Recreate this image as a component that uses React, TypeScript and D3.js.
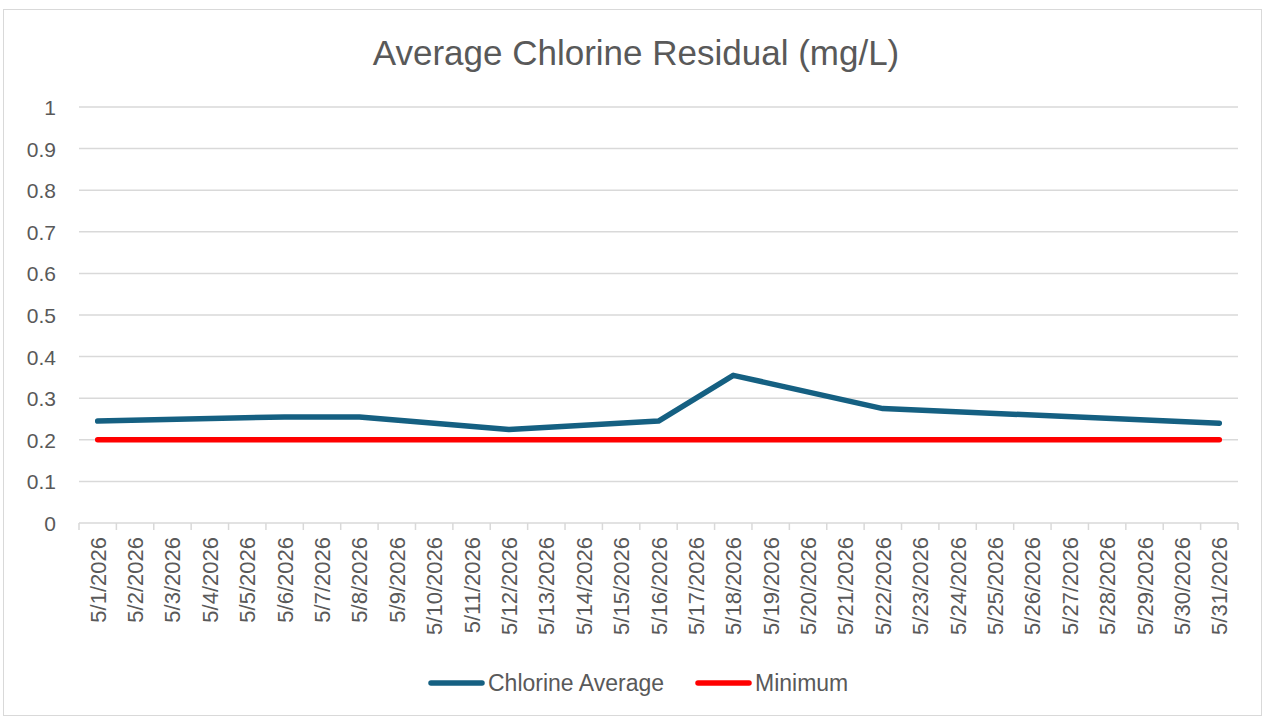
import React from "react";
import * as d3 from "d3";

const days: string[] = Array.from({ length: 31 }, (_, i) => `5/${i + 1}/2026`);
// measured values (null = no reading that day; line connects readings)
const chlorineAverage: (number | null)[] = [
  0.245, null, null, null, null, 0.255, null, 0.255, null, null,
  null, 0.225, null, null, null, 0.245, null, 0.355, null, null,
  null, 0.275, null, null, null, null, null, null, null, null, 0.24,
];
const minimum: number[] = days.map(() => 0.2);
const yTicks: number[] = [0, 0.1, 0.2, 0.3, 0.4, 0.5, 0.6, 0.7, 0.8, 0.9, 1];

const W = 1266, H = 719;
const left = 79, right = 1238, top = 107, bottom = 523;
const FONT = "'Liberation Sans', Arial, sans-serif";
const GRAY = "#595959";

export default function App() {
  const x = d3.scaleBand<string>().domain(days).range([left, right]).padding(0);
  const y = d3.scaleLinear().domain([0, 1]).range([bottom, top]);
  const cx = (d: string) => (x(d) ?? 0) + x.bandwidth() / 2;

  const avgPts = days
    .map((d, i) => [d, chlorineAverage[i]] as [string, number | null])
    .filter((p) => p[1] !== null) as [string, number][];
  const line = d3.line<[string, number]>().x((p) => cx(p[0])).y((p) => y(p[1]));
  const minPts = days.map((d, i) => [d, minimum[i]] as [string, number]);

  return (
    <svg width={W} height={H} style={{ position: "absolute", left: 0, top: 0 }}>
      <rect x={0} y={0} width={W} height={H} fill="#fff" />
      <rect x={3.5} y={9.5} width={1258} height={706} fill="#fff" stroke="#d9d9d9" strokeWidth={1} />
      <text x={636} y={65} textAnchor="middle" fontFamily={FONT} fontSize={35} fill={GRAY}>
        Average Chlorine Residual (mg/L)
      </text>
      {yTicks.map((t) => (
        <g key={t}>
          <line x1={left} x2={right} y1={y(t)} y2={y(t)} stroke="#d9d9d9" strokeWidth={1.5} />
          <text x={56} y={y(t) + 8} textAnchor="end" fontFamily={FONT} fontSize={21} fill={GRAY}>
            {String(t)}
          </text>
        </g>
      ))}
      {days.map((d, i) => (
        <line key={"t" + i} x1={x(d)} x2={x(d)} y1={bottom} y2={bottom + 7} stroke="#d9d9d9" strokeWidth={1.5} />
      ))}
      <line x1={right} x2={right} y1={bottom} y2={bottom + 7} stroke="#d9d9d9" strokeWidth={1.5} />
      {days.map((d) => (
        <text
          key={"l" + d}
          transform={`translate(${cx(d) + 8},${bottom + 14}) rotate(-90)`}
          textAnchor="end"
          fontFamily={FONT}
          fontSize={22}
          fill={GRAY}
        >
          {d}
        </text>
      ))}
      <path d={line(minPts) ?? ""} fill="none" stroke="#ff0000" strokeWidth={5.5} strokeLinecap="round" strokeLinejoin="round" />
      <path d={line(avgPts) ?? ""} fill="none" stroke="#156082" strokeWidth={5.5} strokeLinecap="round" strokeLinejoin="round" />
      <line x1={431} x2={482} y1={683} y2={683} stroke="#156082" strokeWidth={5.5} strokeLinecap="round" />
      <text x={488} y={691} fontFamily={FONT} fontSize={23} fill={GRAY}>Chlorine Average</text>
      <line x1={698} x2={749} y1={683} y2={683} stroke="#ff0000" strokeWidth={5.5} strokeLinecap="round" />
      <text x={755} y={691} fontFamily={FONT} fontSize={23} fill={GRAY}>Minimum</text>
    </svg>
  );
}
